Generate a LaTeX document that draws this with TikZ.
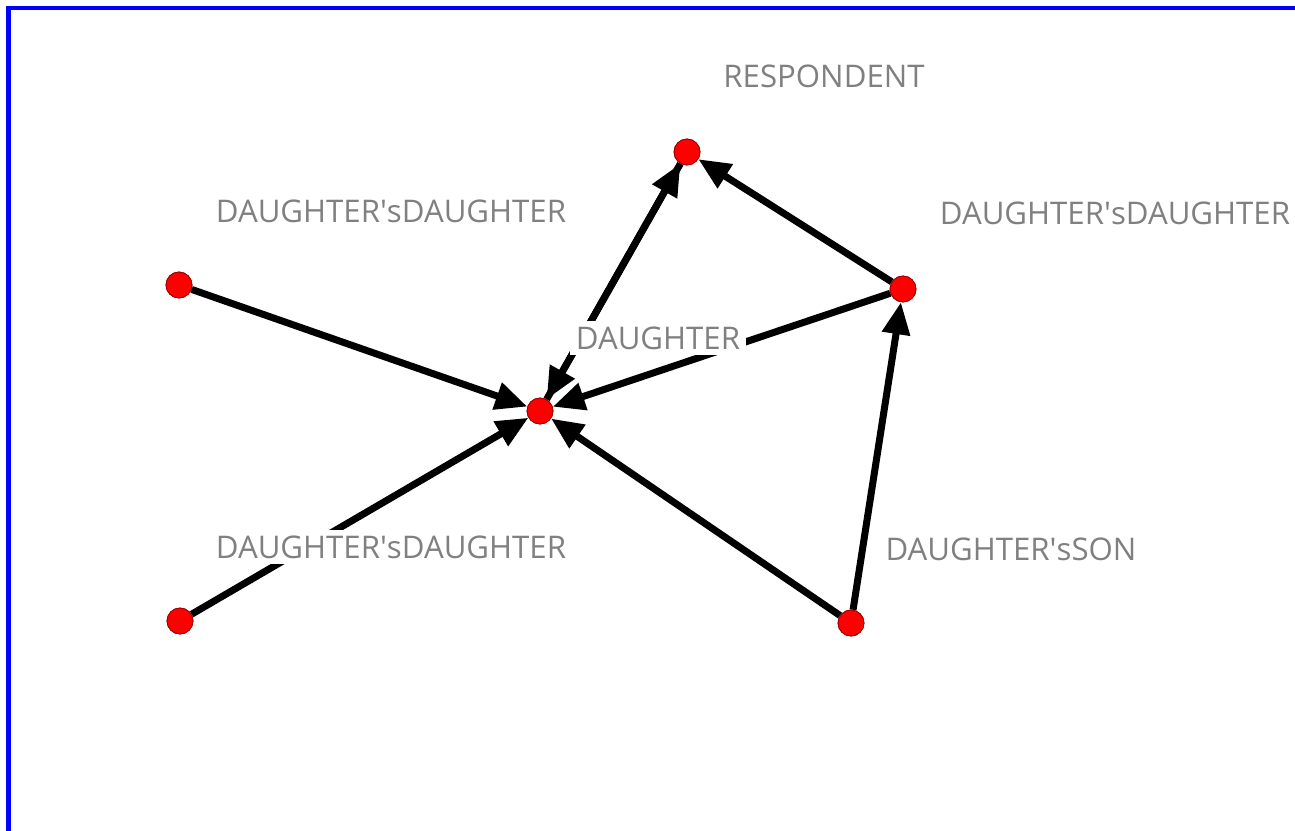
\documentclass[tikz,border=0pt]{standalone}
\usepackage{fontspec}
\setmainfont{Open Sans}
\usetikzlibrary{arrows.meta}

\begin{document}
\begin{tikzpicture}[
    x=0.5pt, y=-0.5pt,
    every person/.style={
        circle,
        draw=red!60!black,
        fill=red,
        line width=0.4pt,
        inner sep=0pt,
        minimum size=13pt
    },
    tag/.style={
        fill=white,
        text=gray,
        inner sep=3pt,
        font=\fontsize{15.6}{18}\selectfont
    },
    tie/.style={
        line width=3.5pt,
        -{Triangle[length=16pt,width=13.5pt]}
    }
]

\useasboundingbox (0,0) rectangle (1295,830);
\clip (0,0) rectangle (1295,830);

% Frame
\draw [blue, line width=2.4pt] (8.5,8) rectangle (1310,845);

% People
\node [every person] (respondent) at (687,152) {};
\node [every person] (daughter) at (540,411) {};
\node [every person] (dd-1) at (179,285) {};
\node [every person] (dd-2) at (903,289) {};
\node [every person] (dd-3) at (180,621) {};
\node [every person] (son) at (851,623) {};

% Ties
\foreach \a/\b in {dd-1/daughter, dd-3/daughter, son/daughter, son/dd-2,
                   dd-2/daughter, dd-2/respondent, daughter/respondent, respondent/daughter}
    \draw [tie] (\a) -- (\b);

% Labels
\node [tag] (respondent-label) at (824,76) {RESPONDENT};
\node [tag] (dd-1-label) at (391,211) {DAUGHTER\textquotesingle sDAUGHTER};
\node [tag] (dd-2-label) at (1115,213) {DAUGHTER\textquotesingle sDAUGHTER};
\node [tag] (daughter-label) at (658,338) {DAUGHTER};
\node [tag] (dd-3-label) at (391,547) {DAUGHTER\textquotesingle sDAUGHTER};
\node [tag] (son-label) at (1011,549) {DAUGHTER\textquotesingle sSON};

% People on top
\foreach \p in {respondent, daughter, dd-1, dd-2, dd-3, son}
    \node [every person] at (\p) {};

\end{tikzpicture}
\end{document}
